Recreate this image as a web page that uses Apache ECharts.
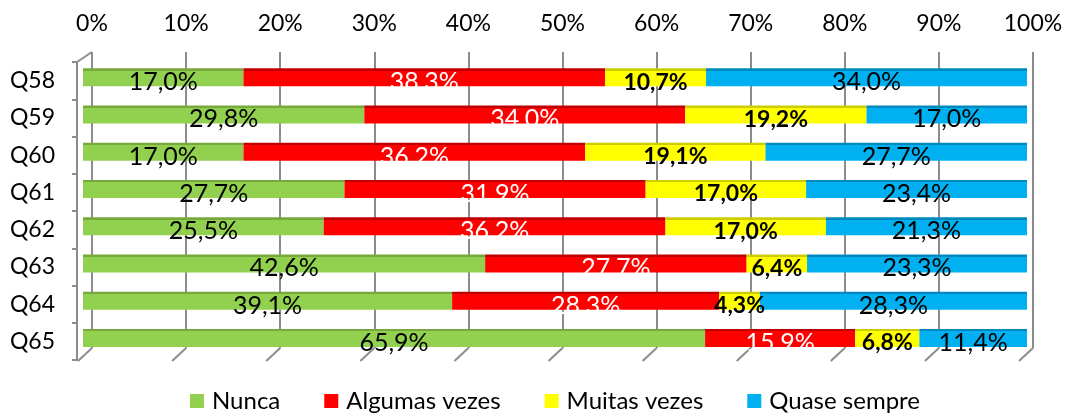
<!DOCTYPE html>
<html>
<head>
<meta charset="utf-8">
<script src="https://cdn.jsdelivr.net/npm/echarts@6/dist/echarts.min.js"></script>
<style>
  html, body { margin: 0; padding: 0; background: #fff; }
  #chart { width: 1069px; height: 418px; }
</style>
</head>
<body>
<div id="chart"></div>
<script>
// data
const categories = ['Q58', 'Q59', 'Q60', 'Q61', 'Q62', 'Q63', 'Q64', 'Q65'];
const nunca   = [17.0, 29.8, 17.0, 27.7, 25.5, 42.6, 39.1, 65.9];
const algumas = [38.3, 34.0, 36.2, 31.9, 36.2, 27.7, 28.3, 15.9];
const muitas  = [10.7, 19.2, 19.1, 17.0, 17.0, 6.4, 4.3, 6.8];
const quase   = [34.0, 17.0, 27.7, 23.4, 21.3, 23.3, 28.3, 11.4];
const seriesNames = ['Nunca', 'Algumas vezes', 'Muitas vezes', 'Quase sempre'];
const xTicks = [0, 10, 20, 30, 40, 50, 60, 70, 80, 90, 100];

const FONT = 'Lato';
const GRID_GRAY = '#8c8c8c';

const colors = ['#92D050', '#FF0000', '#FFFF00', '#00B0F0'];
const topColors = ['#77A83C', '#C00000', '#CCCC00', '#0089BC'];

function fmt(p) {
  return p.value.toFixed(1).replace('.', ',') + '%';
}

// flat face + darker strip on top to fake the 3D top of the bar
function barFill(i) {
  return new echarts.graphic.LinearGradient(0, 0, 0, 1, [
    { offset: 0, color: topColors[i] },
    { offset: 0.14, color: topColors[i] },
    { offset: 0.14, color: colors[i] },
    { offset: 1, color: colors[i] }
  ]);
}

const labelStyles = [
  { color: '#000', fontSize: 25, fontWeight: 'normal' },
  { color: '#fff', fontSize: 25, fontWeight: 'normal' },
  { color: '#000', fontSize: 23, fontWeight: 'bold' },
  { color: '#000', fontSize: 25, fontWeight: 'normal' }
];

const values = [nunca, algumas, muitas, quase];

const barSeries = values.map((vals, i) => ({
  name: seriesNames[i],
  type: 'bar',
  stack: 'total',
  xAxisIndex: 2,
  yAxisIndex: 2,
  barWidth: 18,
  data: vals,
  itemStyle: { color: barFill(i) },
  label: {
    show: true,
    position: 'inside',
    offset: [0, 5],
    formatter: fmt,
    fontFamily: FONT,
    color: labelStyles[i].color,
    fontSize: labelStyles[i].fontSize,
    fontWeight: labelStyles[i].fontWeight
  },
  emphasis: { disabled: true },
  z: 3
}));

// floor and side edges of the 3D box
const wallSeries = {
  type: 'custom',
  xAxisIndex: 0,
  yAxisIndex: 0,
  silent: true,
  z: 1,
  data: xTicks.map(v => [v]),
  renderItem: function (params, api) {
    const v = api.value(0);
    const b = api.coord([v, 0]);
    const children = [{
      type: 'line',
      shape: { x1: b[0], y1: b[1], x2: b[0] - 14, y2: b[1] + 13 },
      style: { stroke: GRID_GRAY, lineWidth: 2 }
    }];
    if (v === 0) {
      const t = api.coord([v, 1]);
      children.push({
        type: 'line',
        shape: { x1: t[0], y1: t[1], x2: t[0] - 15, y2: t[1] + 10 },
        style: { stroke: GRID_GRAY, lineWidth: 2 }
      });
    }
    return { type: 'group', children: children };
  }
};

const chart = echarts.init(document.getElementById('chart'), null, { renderer: 'canvas' });

chart.setOption({
  animation: false,
  backgroundColor: '#fff',
  textStyle: { fontFamily: FONT },
  grid: [
    { left: 92, top: 52, width: 941, height: 296 },   // back wall
    { left: 77, top: 62, width: 941, height: 298 },   // front category axis
    { left: 83, top: 58.5, width: 944, height: 298 }  // bars
  ],
  xAxis: [
    {
      gridIndex: 0, type: 'value', min: 0, max: 100, interval: 10,
      position: 'top',
      axisLine: { show: false },
      axisTick: { show: false },
      axisLabel: { formatter: '{value}%', color: '#000', fontSize: 23, fontFamily: FONT, margin: 17 },
      splitLine: { show: true, lineStyle: { color: GRID_GRAY, width: 2 } }
    },
    { gridIndex: 1, type: 'value', min: 0, max: 100, show: false },
    { gridIndex: 2, type: 'value', min: 0, max: 100, show: false }
  ],
  yAxis: [
    { gridIndex: 0, type: 'value', min: 0, max: 1, show: false },
    {
      gridIndex: 1, type: 'category', inverse: true, data: categories,
      axisLine: { show: true, lineStyle: { color: GRID_GRAY, width: 2 } },
      axisTick: { show: true, length: 5, lineStyle: { color: GRID_GRAY, width: 2 } },
      axisLabel: { color: '#000', fontSize: 23, fontFamily: FONT, margin: 22, padding: [12, 0, 0, 0] }
    },
    { gridIndex: 2, type: 'category', inverse: true, data: categories, show: false }
  ],
  legend: {
    bottom: 0,
    left: 185,
    itemWidth: 14,
    itemHeight: 14,
    itemGap: 44,
    icon: 'rect',
    textStyle: { fontSize: 24, fontFamily: FONT, color: '#000', padding: [0, 0, 0, 3] },
    data: seriesNames.map((n, i) => ({ name: n, itemStyle: { color: colors[i] } }))
  },
  series: barSeries.concat([wallSeries])
});
</script>
</body>
</html>
